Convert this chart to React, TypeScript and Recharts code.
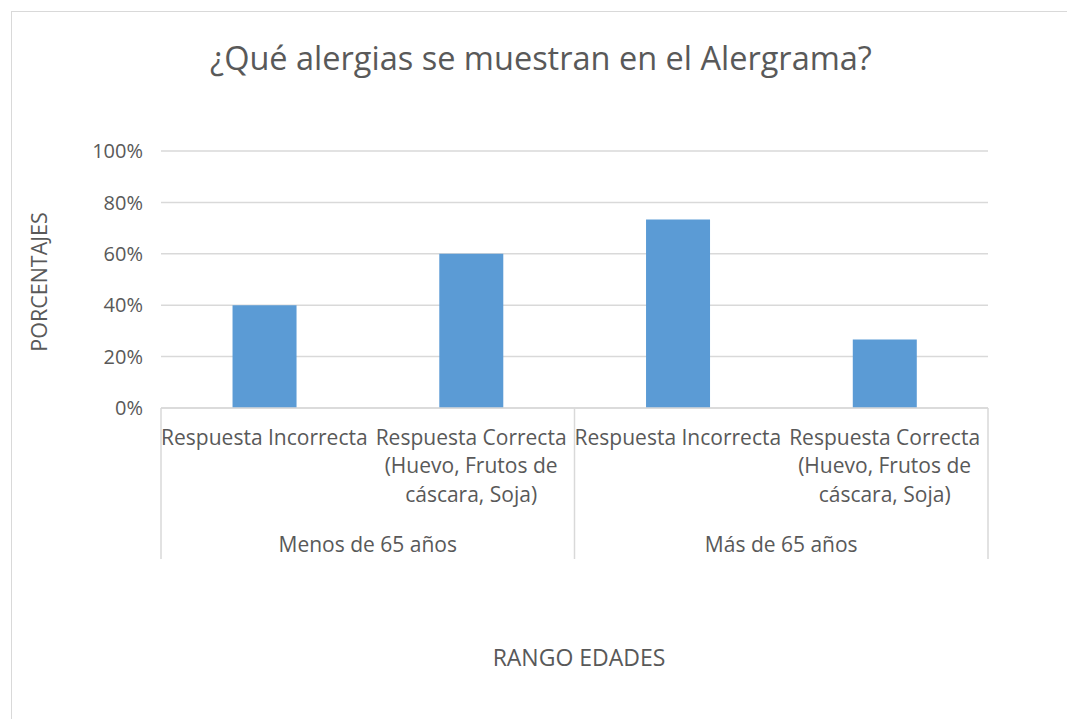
import { BarChart, Bar, XAxis, YAxis, CartesianGrid } from "recharts";

const categories = [
  "Respuesta Incorrecta",
  "Respuesta Correcta (Huevo, Frutos de cáscara, Soja)",
  "Respuesta Incorrecta",
  "Respuesta Correcta (Huevo, Frutos de cáscara, Soja)",
];
// how the category labels wrap on the axis
const categoryLines = [
  ["Respuesta Incorrecta"],
  ["Respuesta Correcta", "(Huevo, Frutos de", "cáscara, Soja)"],
  ["Respuesta Incorrecta"],
  ["Respuesta Correcta", "(Huevo, Frutos de", "cáscara, Soja)"],
];
const groups = ["Menos de 65 años", "Más de 65 años"];
const groupOf = [0, 0, 1, 1];
const percentages = [40, 60, 73.3, 26.7];
const yTicks = [0, 20, 40, 60, 80, 100];

const data = categories.map((name, i) => ({
  name,
  idx: i,
  value: percentages[i],
}));

const W = 1067;
const H = 719;
const PLOT_LEFT = 161;
const PLOT_RIGHT = 988;
const PLOT_TOP = 151;
const PLOT_BOTTOM = 408;
const CAT_W = (PLOT_RIGHT - PLOT_LEFT) / categories.length;
const FONT = "'Open Sans', sans-serif";
const TEXT = "#595959";
const GRID = "#d9d9d9";

function CategoryTick(props: any) {
  const { x, payload } = props;
  const i = payload.index as number;
  const lines = categoryLines[i] || [];
  const first = i === 0 || groupOf[i] !== groupOf[i - 1];
  const last = i === categories.length - 1;
  return (
    <g>
      {lines.map((ln, k) => (
        <text
          key={k}
          x={x}
          y={PLOT_BOTTOM + 31 + k * 28.5}
          textAnchor="middle"
          dominantBaseline="middle"
          fontFamily={FONT}
          fontSize={21}
          fill={TEXT}
        >
          {ln}
        </text>
      ))}
      {first && (
        <line
          x1={x - CAT_W / 2}
          x2={x - CAT_W / 2}
          y1={PLOT_BOTTOM}
          y2={PLOT_BOTTOM + 151}
          stroke={GRID}
          strokeWidth={1.5}
        />
      )}
      {last && (
        <line
          x1={x + CAT_W / 2}
          x2={x + CAT_W / 2}
          y1={PLOT_BOTTOM}
          y2={PLOT_BOTTOM + 151}
          stroke={GRID}
          strokeWidth={1.5}
        />
      )}
      {first && (
        <text
          x={x + CAT_W / 2}
          y={PLOT_BOTTOM + 138}
          textAnchor="middle"
          dominantBaseline="middle"
          fontFamily={FONT}
          fontSize={21}
          fill={TEXT}
        >
          {groups[groupOf[i]]}
        </text>
      )}
    </g>
  );
}

export default function App() {
  return (
    <div
      style={{
        position: "fixed",
        left: 0,
        top: 0,
        width: W,
        height: H,
        background: "#fff",
        overflow: "hidden",
      }}
    >
      <div
        style={{
          position: "absolute",
          left: 11,
          top: 11,
          width: W,
          height: H,
          border: `1.5px solid ${GRID}`,
          boxSizing: "border-box",
        }}
      />
      <div
        style={{
          position: "absolute",
          left: 11,
          width: 1060,
          top: 36,
          textAlign: "center",
          fontFamily: FONT,
          fontSize: 32.5,
          color: TEXT,
          lineHeight: "44px",
        }}
      >
        ¿Qué alergias se muestran en el Alergrama?
      </div>
      <div style={{ position: "absolute", left: 0, top: 0 }}>
        <BarChart
          width={W}
          height={H}
          data={data}
          margin={{ top: PLOT_TOP, right: W - PLOT_RIGHT, bottom: 0, left: 10 }}
          barCategoryGap="34.6%"
        >
          <CartesianGrid
            vertical={false}
            stroke={GRID}
            strokeWidth={1.5}
          />
          <XAxis
            dataKey="idx"
            type="category"
            height={H - PLOT_BOTTOM}
            axisLine={{ stroke: GRID, strokeWidth: 1.5 }}
            tickLine={false}
            interval={0}
            tick={<CategoryTick />}
          />
          <YAxis
            width={PLOT_LEFT - 10}
            domain={[0, 100]}
            ticks={yTicks}
            axisLine={false}
            tickLine={false}
            tickMargin={12}
            tickFormatter={(v: number) => `${v}%`}
            tick={{ fontFamily: FONT, fontSize: 20, fill: TEXT }}
          />
          <Bar dataKey="value" fill="#5b9bd5" isAnimationActive={false} />
        </BarChart>
      </div>
      <div
        style={{
          position: "absolute",
          left: 38,
          top: 282,
          transform: "translate(-50%, -50%) rotate(-90deg)",
          fontFamily: FONT,
          fontSize: 21.5,
          color: TEXT,
          whiteSpace: "nowrap",
        }}
      >
        PORCENTAJES
      </div>
      <div
        style={{
          position: "absolute",
          left: 579,
          top: 657,
          transform: "translate(-50%, -50%)",
          fontFamily: FONT,
          fontSize: 23,
          color: TEXT,
          whiteSpace: "nowrap",
        }}
      >
        RANGO EDADES
      </div>
    </div>
  );
}
